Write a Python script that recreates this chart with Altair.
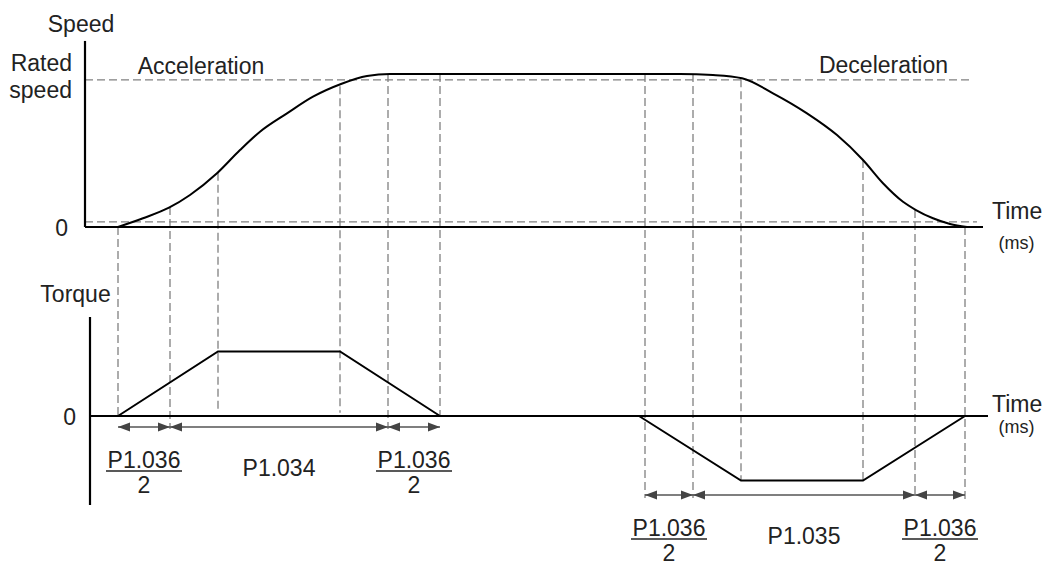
import altair as alt
import pandas as pd

# ---------------- data ----------------
# time in ms (arbitrary origin at the speed axis), speed as fraction of the
# S-curve's top level, torque as fraction of peak torque
curve_t = [33, 58, 84, 105, 132, 155, 175, 202, 228, 256, 282, 305,
           595, 628, 657, 688, 722, 752, 778, 798, 818, 831, 848, 865, 882]
curve_speed = [0, 0.057, 0.126, 0.209, 0.351, 0.503, 0.623, 0.743, 0.852, 0.935, 0.987, 1.0,
               1.0, 0.993, 0.972, 0.874, 0.743, 0.601, 0.438, 0.286, 0.165, 0.111, 0.057, 0.02, 0]

torque_t = [33, 133, 255, 355, 554, 656, 778, 880]
torque_v = [0, 1, 1, 0, 0, -1, -1, 0]
torque_phase = ["acc", "acc", "acc", "acc", "dec", "dec", "dec", "dec"]

guide_t = [33, 85, 133, 255, 303, 355, 560, 608, 656, 778, 830, 880]
guide_top_speed = [0, 0.131, 0.355, 0.92, 1.0, 1.0, 1.0, 1.0, 0.965, 0.438, 0.111, 0]
guide_bottom_torque = [0, -0.2, 0.05, 0.05, -0.2, 0, -1.27, -1.27, -1, -1, -1.27, -1.3]

ref_speed = [0.961, 0.033]          # "rated speed" and near-zero dashed lines
ref_end_t = [885, 892]

arrow_start = [33, 85, 303, 560, 608, 830]
arrow_end = [85, 303, 355, 608, 830, 880]
arrow_level = [-0.17, -0.17, -0.17, -1.225, -1.225, -1.225]
arrow_label = ["P1.036", "P1.034", "P1.036", "P1.036", "P1.035", "P1.036"]
arrow_fraction = [True, False, True, True, False, True]

# ---------------- scales ----------------
FONT = "Liberation Sans"
TXT = "#222222"
DASH = "#808080"

xscale = alt.Scale(domain=[-77, 958], range=[0, 1035], nice=False, zero=False)
speed_scale = alt.Scale(domain=[0, 1], range=[219, 66], nice=False, zero=False)
torque_scale = alt.Scale(domain=[-1, 1], range=[472.5, 343.5], nice=False, zero=False)


def X(f):
    return alt.X(f, type="quantitative", scale=xscale, axis=None)


def SY(f):
    return alt.Y(f, type="quantitative", scale=speed_scale, axis=None)


def TY(f):
    return alt.Y(f, type="quantitative", scale=torque_scale, axis=None)


def torque_to_speed(v):
    cy = 408 - 64.5 * v
    return (219 - cy) / 153


layers = []

# ---------------- speed panel ----------------
ref_df = pd.DataFrame({"t0": [0, 0], "t1": ref_end_t, "s": ref_speed})
layers.append(alt.Chart(ref_df).mark_rule(color=DASH, strokeWidth=1.3, strokeDash=[8, 4]).encode(
    x=X("t0"), x2=alt.X2("t1"), y=SY("s")))

guide_df = pd.DataFrame({"t": guide_t, "top": guide_top_speed,
                         "bottom": [torque_to_speed(v) for v in guide_bottom_torque]})
layers.append(alt.Chart(guide_df).mark_rule(color=DASH, strokeWidth=1.3, strokeDash=[8, 4]).encode(
    x=X("t"), y=SY("top"), y2=alt.Y2("bottom")))

speed_axes = pd.DataFrame({"t0": [0, 0], "t1": [0, 898], "s0": [0, 0], "s1": [1.216, 0]})
layers.append(alt.Chart(speed_axes).mark_rule(color="black", strokeWidth=2.2).encode(
    x=X("t0"), x2=alt.X2("t1"), y=SY("s0"), y2=alt.Y2("s1")))

curve_df = pd.DataFrame({"t": curve_t, "s": curve_speed})
layers.append(alt.Chart(curve_df).mark_line(color="black", strokeWidth=2, interpolate="monotone").encode(
    x=X("t"), y=SY("s")))


def text_layer(df, yfn, align, size, **kw):
    return alt.Chart(df).mark_text(font=FONT, fontSize=size, color=TXT, align=align,
                                   baseline="alphabetic", **kw).encode(
        x=X("t"), y=yfn("v"), text="label:N")


layers.append(text_layer(pd.DataFrame({"t": [-4, 116, 798.5], "v": [1.275, 1.0, 1.006],
                                       "label": ["Speed", "Acceleration", "Deceleration"]}),
                         SY, "center", 23))
layers.append(text_layer(pd.DataFrame({"t": [-13, -13, -17], "v": [1.02, 0.843, -0.059],
                                       "label": ["Rated", "speed", "0"]}),
                         SY, "right", 23))
layers.append(text_layer(pd.DataFrame({"t": [907], "v": [0.052], "label": ["Time"]}), SY, "left", 23))
layers.append(text_layer(pd.DataFrame({"t": [931.5], "v": [-0.144], "label": ["(ms)"]}), SY, "center", 18))

# ---------------- torque panel ----------------
torque_axes = pd.DataFrame({"t0": [5, 5], "t1": [5, 903], "v0": [-1.38, 0], "v1": [1.535, 0]})
layers.append(alt.Chart(torque_axes).mark_rule(color="black", strokeWidth=2.2).encode(
    x=X("t0"), x2=alt.X2("t1"), y=TY("v0"), y2=alt.Y2("v1")))

torque_df = pd.DataFrame({"t": torque_t, "v": torque_v, "phase": torque_phase})
layers.append(alt.Chart(torque_df).mark_line(color="black", strokeWidth=2).encode(
    x=X("t"), y=TY("v"), detail="phase:N"))

arrow_df = pd.DataFrame({"t0": arrow_start, "t1": arrow_end, "v": arrow_level,
                         "label": arrow_label, "frac": arrow_fraction})
arrow_df["t"] = (arrow_df["t0"] + arrow_df["t1"]) / 2

layers.append(alt.Chart(arrow_df).mark_rule(color="#555555", strokeWidth=1.5).encode(
    x=X("t0"), x2=alt.X2("t1"), y=TY("v")))
layers.append(alt.Chart(arrow_df).mark_point(shape="M2,-0.75L0,0L2,0.75Z", filled=True, size=144,
                                             color="#444444", opacity=1, strokeWidth=0).encode(
    x=X("t0"), y=TY("v")))
layers.append(alt.Chart(arrow_df).mark_point(shape="M-2,-0.75L0,0L-2,0.75Z", filled=True, size=144,
                                             color="#444444", opacity=1, strokeWidth=0).encode(
    x=X("t1"), y=TY("v")))

frac_df = arrow_df[arrow_df["frac"]].copy()
single_df = arrow_df[~arrow_df["frac"]].copy()
den_df = frac_df.copy()
den_df["label"] = "2"

layers.append(text_layer(frac_df, TY, "center", 23, dy=41))
layers.append(alt.Chart(frac_df).mark_rule(color=TXT, strokeWidth=1.5, xOffset=-38, x2Offset=38,
                                           yOffset=44).encode(
    x=X("t"), x2=alt.X2("t"), y=TY("v")))
layers.append(text_layer(den_df, TY, "center", 23, dy=66))
layers.append(text_layer(single_df, TY, "center", 23, dy=49))

layers.append(text_layer(pd.DataFrame({"t": [-9.5], "v": [1.767], "label": ["Torque"]}), TY, "center", 23))
layers.append(text_layer(pd.DataFrame({"t": [-9], "v": [-0.14], "label": ["0"]}), TY, "right", 23))
layers.append(text_layer(pd.DataFrame({"t": [907], "v": [0.062], "label": ["Time"]}), TY, "left", 23))
layers.append(text_layer(pd.DataFrame({"t": [931.5], "v": [-0.264], "label": ["(ms)"]}), TY, "center", 18))

chart = alt.layer(*layers).resolve_scale(y="independent").properties(
    width=1035, height=557, autosize=alt.AutoSizeParams(type="none"), padding=0,
    background="white"
).configure_view(strokeWidth=0)

chart.save("out.html", embed_options={"renderer": "svg", "actions": False})
